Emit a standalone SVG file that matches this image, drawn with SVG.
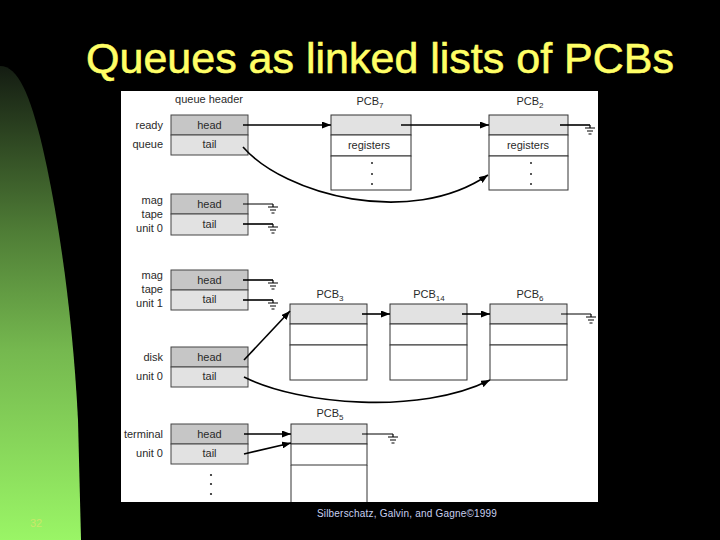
<svg xmlns="http://www.w3.org/2000/svg" width="720" height="540" viewBox="0 0 720 540">
<style>
.t{font-family:"Liberation Sans",Arial,sans-serif;font-size:11px;fill:#2a2a2a}
.m{text-anchor:middle}
.r{text-anchor:end}
.hd{fill:#c6c6c6;stroke:#444;stroke-width:1}
.tl{fill:#e2e2e2;stroke:#444;stroke-width:1}
.pt{fill:#e2e2e2;stroke:#333;stroke-width:1}
.pw{fill:#fff;stroke:#333;stroke-width:1}
.c{fill:none;stroke:#000;stroke-width:1.6}
.c1{fill:none;stroke:#000;stroke-width:1}
.gd{fill:none;stroke:#000;stroke-width:1.2}
.dot{fill:#222}
</style>
<defs>
<linearGradient id="gg" x1="0" y1="0" x2="0" y2="1">
<stop offset="0" stop-color="#141c12"/>
<stop offset="0.35" stop-color="#4f7d36"/>
<stop offset="0.6" stop-color="#75b84f"/>
<stop offset="1" stop-color="#9af566"/>
</linearGradient>
<marker id="ah" markerWidth="9" markerHeight="7" refX="9" refY="3.5" orient="auto" markerUnits="userSpaceOnUse">
<path d="M0,0 L9,3.5 L0,7 z" fill="#000"/>
</marker>
<g id="gnd"><path class="gd" d="M0,0 v3 M-5,3 h10 M-3,6 h6 M-1.5,9 h3"/></g>
</defs>
<rect width="720" height="540" fill="#000"/>
<path d="M0,66 C18,66 30,95 42,145 C55,200 72,300 78,420 L81,540 L0,540 Z" fill="url(#gg)"/>
<text x="36" y="527" font-family="Liberation Sans,Arial,sans-serif" font-size="11" fill="#c9e86a" text-anchor="middle">32</text>
<text x="380" y="73" font-family="Liberation Sans,Arial,sans-serif" font-size="43" fill="#ffff66" stroke="#ffff66" stroke-width="0.6" text-anchor="middle">Queues as linked lists of PCBs</text>
<rect x="121" y="91" width="477" height="411" fill="#fff"/>
<text class="t m" x="209" y="103" font-size="11.5">queue header</text>

<g id="ready">
<text class="t r" x="163" y="129">ready</text>
<text class="t r" x="163" y="148">queue</text>
<rect class="hd" x="171" y="115" width="77" height="20"/>
<rect class="tl" x="171" y="135" width="77" height="20"/>
<text class="t m" x="209.5" y="129">head</text>
<text class="t m" x="209.5" y="148">tail</text>
</g>
<g id="magtape0">
<text class="t r" x="163" y="204">mag</text>
<text class="t r" x="163" y="218">tape</text>
<text class="t r" x="163" y="232">unit 0</text>
<rect class="hd" x="171" y="194" width="77" height="20"/>
<rect class="tl" x="171" y="214" width="77" height="21"/>
<text class="t m" x="209.5" y="208">head</text>
<text class="t m" x="209.5" y="228">tail</text>
</g>
<g id="magtape1">
<text class="t r" x="163" y="279">mag</text>
<text class="t r" x="163" y="293">tape</text>
<text class="t r" x="163" y="307">unit 1</text>
<rect class="hd" x="171" y="270" width="77" height="20"/>
<rect class="tl" x="171" y="290" width="77" height="20"/>
<text class="t m" x="209.5" y="284">head</text>
<text class="t m" x="209.5" y="303">tail</text>
</g>
<g id="disk">
<text class="t r" x="163" y="361">disk</text>
<text class="t r" x="163" y="380">unit 0</text>
<rect class="hd" x="171" y="347" width="77" height="20"/>
<rect class="tl" x="171" y="367" width="77" height="20"/>
<text class="t m" x="209.5" y="361">head</text>
<text class="t m" x="209.5" y="380">tail</text>
</g>
<g id="terminal">
<text class="t r" x="163" y="438">terminal</text>
<text class="t r" x="163" y="457">unit 0</text>
<rect class="hd" x="171" y="424" width="77" height="20"/>
<rect class="tl" x="171" y="444" width="77" height="20"/>
<text class="t m" x="209.5" y="438">head</text>
<text class="t m" x="209.5" y="457">tail</text>
<circle class="dot" cx="211" cy="475" r="1.1"/>
<circle class="dot" cx="211" cy="484" r="1.1"/>
<circle class="dot" cx="211" cy="494" r="1.1"/>
</g>

<g id="pcb7">
<text class="t m" x="370" y="105">PCB<tspan font-size="8" dy="3">7</tspan></text>
<rect class="pt" x="331" y="115" width="80" height="20"/>
<rect class="pw" x="331" y="135" width="80" height="21"/>
<rect class="pw" x="331" y="156" width="80" height="34"/>
<text class="t m" x="369" y="149">registers</text>
<circle class="dot" cx="372" cy="163" r="1"/>
<circle class="dot" cx="372" cy="174" r="1"/>
<circle class="dot" cx="372" cy="184" r="1"/>
</g>
<g id="pcb2">
<text class="t m" x="530" y="105">PCB<tspan font-size="8" dy="3">2</tspan></text>
<rect class="pt" x="489" y="115" width="79" height="20"/>
<rect class="pw" x="489" y="135" width="79" height="21"/>
<rect class="pw" x="489" y="156" width="79" height="34"/>
<text class="t m" x="528" y="149">registers</text>
<circle class="dot" cx="531" cy="163" r="1"/>
<circle class="dot" cx="531" cy="174" r="1"/>
<circle class="dot" cx="531" cy="184" r="1"/>
</g>
<g id="pcb3">
<text class="t m" x="330" y="298">PCB<tspan font-size="8" dy="3">3</tspan></text>
<rect class="pt" x="290" y="304" width="77" height="20"/>
<rect class="pw" x="290" y="324" width="77" height="21"/>
<rect class="pw" x="290" y="345" width="77" height="35"/>
</g>
<g id="pcb14">
<text class="t m" x="429" y="298">PCB<tspan font-size="8" dy="3">14</tspan></text>
<rect class="pt" x="390" y="304" width="77" height="20"/>
<rect class="pw" x="390" y="324" width="77" height="21"/>
<rect class="pw" x="390" y="345" width="77" height="35"/>
</g>
<g id="pcb6">
<text class="t m" x="530" y="298">PCB<tspan font-size="8" dy="3">6</tspan></text>
<rect class="pt" x="490" y="304" width="77" height="20"/>
<rect class="pw" x="490" y="324" width="77" height="21"/>
<rect class="pw" x="490" y="345" width="77" height="35"/>
</g>
<g id="pcb5">
<text class="t m" x="330" y="417">PCB<tspan font-size="8" dy="3">5</tspan></text>
<rect class="pt" x="291" y="424" width="76" height="20"/>
<rect class="pw" x="291" y="444" width="76" height="21"/>
<path class="pw" d="M291,465 V502 M367,465 V502"/>
</g>

<g id="connectors">
<path class="c" d="M243,125 H331" marker-end="url(#ah)"/>
<path class="c" d="M401,125 H489" marker-end="url(#ah)"/>
<path class="c" d="M560,125 H590"/>
<use href="#gnd" x="590" y="125"/>
<path class="c" d="M243,147 C285,195 410,228 488,175" marker-end="url(#ah)"/>

<path class="c1" d="M243,204 H273"/>
<use href="#gnd" x="273" y="204"/>
<path class="c" d="M243,224 H273"/>
<use href="#gnd" x="273" y="224"/>
<path class="c" d="M243,280 H273"/>
<use href="#gnd" x="273" y="280"/>
<path class="c" d="M243,300 H273"/>
<use href="#gnd" x="273" y="300"/>

<path class="c" d="M362,314 H390" marker-end="url(#ah)"/>
<path class="c" d="M462,314 H490" marker-end="url(#ah)"/>
<path class="c1" d="M561,314 H591"/>
<use href="#gnd" x="591" y="314"/>

<path class="c" d="M244,360 L290,311" marker-end="url(#ah)"/>
<path class="c" d="M244,377 C300,405 420,415 490,380" marker-end="url(#ah)"/>

<path class="c" d="M244,434 H291" marker-end="url(#ah)"/>
<path class="c" d="M244,454 L291,443" marker-end="url(#ah)"/>
<path class="c1" d="M362,434 H393"/>
<use href="#gnd" x="393" y="434"/>
</g>

<text x="407" y="517" font-family="Liberation Sans,Arial,sans-serif" font-size="10" letter-spacing="0.2" fill="#c8d0f0" text-anchor="middle">Silberschatz, Galvin,  and Gagne©1999</text>
</svg>
